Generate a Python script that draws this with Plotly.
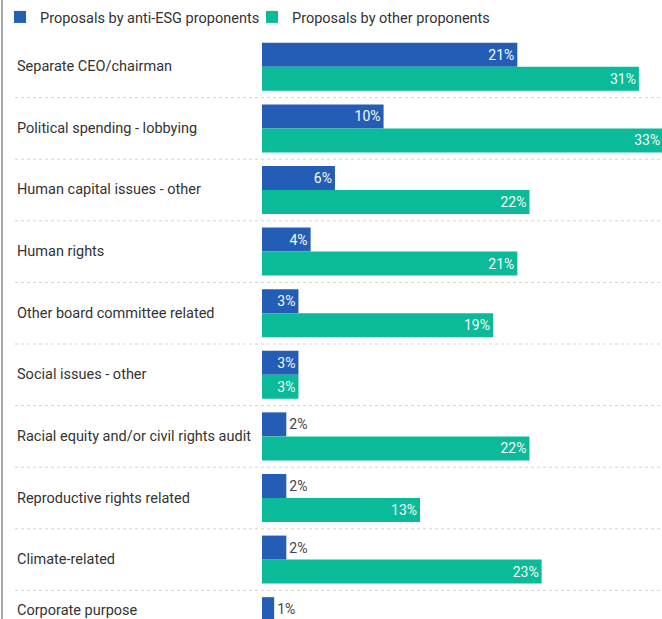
import plotly.graph_objects as go

categories = [
    "Separate CEO/chairman",
    "Political spending - lobbying",
    "Human capital issues - other",
    "Human rights",
    "Other board committee related",
    "Social issues - other",
    "Racial equity and/or civil rights audit",
    "Reproductive rights related",
    "Climate-related",
    "Corporate purpose",
]
anti_esg = [21, 10, 6, 4, 3, 3, 2, 2, 2, 1]
other = [31, 33, 22, 21, 19, 3, 22, 13, 23, None]
series_names = ["Proposals by anti-ESG proponents", "Proposals by other proponents"]

BLUE = "#245DB5"
TEAL = "#0ABA98"
FONT = "Roboto"

W, H = 662, 619
L, T = 262, 36
plot_w = W - L
plot_h = H - T
cat_px = 61.6

def labels(vals):
    return [f"{v}%" if v is not None else "" for v in vals]

def positions(vals):
    return ["inside" if (v is not None and v >= 3) else "outside" for v in vals]

def tcolors(vals):
    return ["#f4fbf9" if (v is not None and v >= 3) else "#444444" for v in vals]

fig = go.Figure()
for name, vals, col in [(series_names[0], anti_esg, BLUE), (series_names[1], other, TEAL)]:
    fig.add_trace(go.Bar(
        y=list(range(len(categories))), x=vals, name=name, orientation="h",
        marker=dict(color=col, line=dict(width=0)),
        text=labels(vals), textposition=positions(vals),
        insidetextanchor="end",
        textfont=dict(family=FONT, size=14, color=tcolors(vals)),
        cliponaxis=True, hoverinfo="skip",
    ))

x_left_paper = (15 - L) / plot_w
n_visible = plot_h / cat_px
min_label_paper = 9 / plot_h  # keep partly-visible last label readable

# left-aligned category labels
for i, c in enumerate(categories):
    yp = max(1 - (i + 0.5) / n_visible, min_label_paper)
    fig.add_annotation(x=x_left_paper, xref="paper", y=yp, yref="paper",
                       text=c, showarrow=False, xanchor="left", yanchor="middle",
                       font=dict(family=FONT, size=14.5, color="#333333"))

# dotted separators between categories
for i in range(len(categories) - 1):
    fig.add_shape(type="line", xref="paper", yref="y", x0=x_left_paper, x1=1,
                  y0=i + 0.5, y1=i + 0.5,
                  line=dict(color="#d4d4d4", width=1, dash="dot"))

# left border
fig.add_shape(type="line", xref="paper", yref="paper",
              x0=(2 - L) / plot_w, x1=(2 - L) / plot_w, y0=-0.01, y1=1 + T / plot_h + 0.01,
              line=dict(color="#a8a8a8", width=2))

fig.update_layout(
    width=W, height=H,
    margin=dict(l=L, r=0, t=T, b=0),
    paper_bgcolor="white", plot_bgcolor="white",
    barmode="group", bargap=0.22, bargroupgap=0,
    font=dict(family=FONT, size=14, color="#333333"),
    showlegend=True,
    legend=dict(orientation="h", x=-L / plot_w, xanchor="left",
                y=1 + (T - 1) / plot_h, yanchor="top",
                font=dict(family=FONT, size=14.5, color="#333333"),
                bgcolor="rgba(0,0,0,0)", itemsizing="constant",
                traceorder="normal", tracegroupgap=0, entrywidth=207),
    xaxis=dict(range=[0, 32.9], showgrid=False, zeroline=False, showticklabels=False,
               showline=False, fixedrange=True),
    yaxis=dict(range=[-0.5 + n_visible, -0.5], showgrid=False, zeroline=False,
               showticklabels=False, showline=False, fixedrange=True),
)

fig.write_html("out.html")
